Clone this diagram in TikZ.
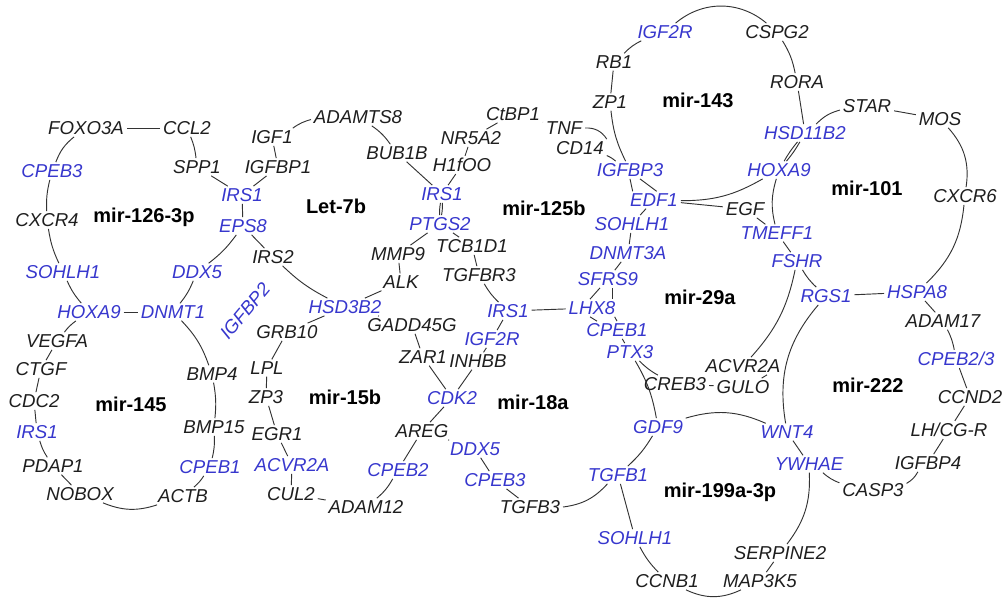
\documentclass[tikz,border=0pt]{standalone}
\usepackage{fontspec}
\setmainfont{Liberation Sans}
\usepackage{tikz}
\definecolor{genblue}{RGB}{55,55,205}
\definecolor{geneblack}{RGB}{30,30,30}
\tikzstyle{gene} = [text=geneblack, font=\itshape\fontsize{14}{16}\selectfont,
    inner xsep=2pt, inner ysep=1.5pt]
\tikzstyle{hit} = [gene, text=genblue]
\tikzstyle{mirna} = [text=black, font=\bfseries\fontsize{15}{18}\selectfont]
\tikzstyle{genelink} = [draw=black!80, line width=0.7pt]

\begin{document}
\begin{tikzpicture}[x=0.75pt,y=-0.75pt]
\useasboundingbox (0,0) rectangle (1002,599);

\node[mirna] (m126) at (144,217) {mir-126-3p};
\node[mirna] (m145) at (131,404) {mir-145};
\node[mirna] (let7b) at (336,206) {Let-7b};
\node[mirna] (m15b) at (345,397) {mir-15b};
\node[mirna] (m125b) at (544,208) {mir-125b};
\node[mirna] (m18a) at (533,402) {mir-18a};
\node[mirna] (m143) at (698,100) {mir-143};
\node[mirna] (m101) at (867,188) {mir-101};
\node[mirna] (m29a) at (700,297) {mir-29a};
\node[mirna] (m222) at (868,385) {mir-222};
\node[mirna] (m199) at (720,492) {mir-199a-3p};

\node[gene] (foxo) at (86,128) {FOXO3A};
\node[gene] (ccl) at (187,128) {CCL2};
\node[gene] (spp) at (197,167) {SPP1};
\node[hit] (irsA) at (242,195) {IRS1};
\node[hit] (eps) at (243,226) {EPS8};
\node[hit] (ddxA) at (197,272) {DDX5};
\node[hit] (dnmt) at (173,312) {DNMT1};
\node[hit] (hoxA) at (89,312) {HOXA9};
\node[hit] (sohA) at (63,272) {SOHLH1};
\node[gene] (cxcr) at (47,220) {CXCR4};
\node[hit] (cpebA) at (52,171) {CPEB3};

\node[gene] (vegfa) at (57,341) {VEGFA};
\node[gene] (ctgf) at (41,369) {CTGF};
\node[gene] (cdc) at (34,401) {CDC2};
\node[hit] (irsB) at (37,432) {IRS1};
\node[gene] (pdap) at (53,466) {PDAP1};
\node[gene] (nobox) at (80,494) {NOBOX};
\node[gene] (actb) at (183,496) {ACTB};
\node[hit] (cpebB) at (210,467) {CPEB1};
\node[gene] (bmp15) at (214,427) {BMP15};
\node[gene] (bmp4) at (212,374) {BMP4};
\node[hit, rotate=50] (igfbp2) at (245,311) {IGFBP2};

\node[gene] (igfbp1) at (278,167) {IGFBP1};
\node[gene] (igf1) at (272,137) {IGF1};
\node[gene] (adamts) at (358,117) {ADAMTS8};
\node[gene] (bub) at (397,153) {BUB1B};
\node[hit] (irsC) at (442,194) {IRS1};
\node[hit] (ptgs) at (440,224) {PTGS2};
\node[gene] (mmp) at (398,254) {MMP9};
\node[gene] (alk) at (401,282) {ALK};
\node[hit] (hsd3) at (345,307) {HSD3B2};
\node[gene] (irs2) at (273,257) {IRS2};

\node[gene] (grb) at (287,332) {GRB10};
\node[gene] (lpl) at (267,368) {LPL};
\node[gene] (zp3) at (266,397) {ZP3};
\node[gene] (egr) at (277,434) {EGR1};
\node[hit] (acvrA) at (292,465) {ACVR2A};
\node[gene] (cul) at (291,494) {CUL2};
\node[gene] (adam12) at (366,507) {ADAM12};
\node[hit] (cpebC) at (398,470) {CPEB2};
\node[gene] (areg) at (422,431) {AREG};
\node[hit] (cdk) at (452,398) {CDK2};
\node[gene] (zar) at (423,357) {ZAR1};
\node[gene] (gadd) at (412,325) {GADD45G};

\node[gene] (h1f) at (462,165) {H1fOO};
\node[gene] (nr5) at (471,138) {NR5A2};
\node[gene] (ctbp) at (513,114) {CtBP1};
\node[gene] (tnf) at (564,128) {TNF};
\node[gene] (cd14) at (580,148) {CD14};
\node[hit] (igfbp3) at (630,170) {IGFBP3};
\node[hit] (edf) at (654,200) {EDF1};
\node[hit] (sohB) at (632,224) {SOHLH1};
\node[hit] (dnmt3) at (628,253) {DNMT3A};
\node[hit] (sfrs) at (608,279) {SFRS9};
\node[hit] (lhx) at (592,308) {LHX8};
\node[hit] (irsD) at (508,311) {IRS1};
\node[gene] (tgfbr) at (479,275) {TGFBR3};
\node[gene] (tcb) at (472,246) {TCB1D1};

\node[hit] (igf2rA) at (492,339) {IGF2R};
\node[gene] (inhbb) at (478,361) {INHBB};
\node[hit] (ddxB) at (475,449) {DDX5};
\node[hit] (cpebD) at (495,480) {CPEB3};
\node[gene] (tgfb3) at (530,507) {TGFB3};
\node[hit] (tgfb1) at (618,475) {TGFB1};
\node[hit] (gdf) at (658,427) {GDF9};
\node[hit] (ptx) at (630,352) {PTX3};
\node[hit] (cpebE) at (617,330) {CPEB1};

\node[hit] (igf2rB) at (665,32) {IGF2R};
\node[gene] (rb) at (614,62) {RB1};
\node[gene] (zp1) at (610,102) {ZP1};
\node[gene] (cspg) at (777,32) {CSPG2};
\node[gene] (rora) at (797,82) {RORA};
\node[hit] (hsd11) at (805,133) {HSD11B2};
\node[hit] (hoxB) at (779,170) {HOXA9};

\node[gene] (star) at (867,106) {STAR};
\node[gene] (mos) at (940,119) {MOS};
\node[gene] (cxcr6) at (965,196) {CXCR6};
\node[hit] (hspa) at (917,292) {HSPA8};
\node[hit] (rgs) at (826,296) {RGS1};
\node[hit] (fshr) at (797,261) {FSHR};
\node[hit] (tmeff) at (777,233) {TMEFF1};
\node[gene] (egf) at (745,209) {EGF};

\node[gene] (acvrB) at (743,366) {ACVR2A};
\node[gene] (gulo) at (743,387) {GULO};
\node[gene] (creb) at (675,384) {CREB3};

\node[gene] (adam17) at (943,321) {ADAM17};
\node[hit] (cpeb23) at (956,359) {CPEB2/3};
\node[gene] (ccnd) at (970,397) {CCND2};
\node[gene] (lhcg) at (949,430) {LH/CG-R};
\node[gene] (igfbp4) at (928,463) {IGFBP4};
\node[gene] (casp) at (873,490) {CASP3};
\node[hit] (ywhae) at (809,464) {YWHAE};
\node[hit] (wnt) at (787,432) {WNT4};

\node[gene] (serp) at (780,553) {SERPINE2};
\node[gene] (map3k) at (760,581) {MAP3K5};
\node[gene] (ccnb) at (667,581) {CCNB1};
\node[hit] (sohC) at (635,538) {SOHLH1};

\draw[genelink] (ccl) -- (foxo);
\draw[genelink] (foxo) to[bend right=15] (cpebA);
\draw[genelink] (cpebA) to[bend right=8] (cxcr);
\draw[genelink] (cxcr) to[bend right=8] (sohA);
\draw[genelink] (sohA) to[bend right=8] (hoxA);
\draw[genelink] (hoxA) -- (dnmt);
\draw[genelink] (dnmt) to[bend right=8] (ddxA);
\draw[genelink] (ddxA) to[bend right=8] (eps);
\draw[genelink] (eps) -- (irsA);
\draw[genelink] (irsA) -- (spp);
\draw[genelink] (spp) to[bend right=8] (ccl);

\draw[genelink] (hoxA) to[bend right=8] (vegfa);
\draw[genelink] (vegfa) -- (ctgf);
\draw[genelink] (ctgf) -- (cdc);
\draw[genelink] (cdc) -- (irsB);
\draw[genelink] (irsB) to[bend right=8] (pdap);
\draw[genelink] (pdap) -- (nobox);
\draw[genelink] (nobox) to[bend right=20] (actb);
\draw[genelink] (actb) to[bend right=8] (cpebB);
\draw[genelink] (cpebB) to[bend right=8] (bmp15);
\draw[genelink] (bmp15) to[bend right=8] (bmp4);
\draw[genelink] (bmp4) to[bend right=12] (dnmt);

\draw[genelink] (adamts) to[bend right=10] (igf1);
\draw[genelink] (igf1) -- (igfbp1);
\draw[genelink] (igfbp1) -- (irsA);
\draw[genelink] (eps) -- (irs2);
\draw[genelink] (irs2) to[bend right=8] (hsd3);
\draw[genelink] (hsd3) -- (alk);
\draw[genelink] (alk) -- (mmp);
\draw[genelink] (mmp) -- (ptgs);
\draw[genelink] (ptgs) to[bend right=6] (irsC);
\draw[genelink] (irsC) -- (bub);
\draw[genelink] (bub) to[bend right=10] (adamts);

\draw[genelink] (hsd3) -- (grb);
\draw[genelink] (grb) -- (lpl);
\draw[genelink] (lpl) -- (zp3);
\draw[genelink] (zp3) -- (egr);
\draw[genelink] (egr) -- (acvrA);
\draw[genelink] (acvrA) -- (cul);
\draw[genelink] (cul) -- (adam12);
\draw[genelink] (adam12) to[bend right=10] (cpebC);
\draw[genelink] (cpebC) -- (areg);
\draw[genelink] (areg) -- (cdk);
\draw[genelink] (cdk) -- (zar);
\draw[genelink] (zar) -- (gadd);
\draw[genelink] (gadd) -- (hsd3);

\draw[genelink] (ctbp) -- (nr5);
\draw[genelink] (nr5) -- (h1f);
\draw[genelink] (h1f) -- (irsC);
\draw[genelink] (irsC) to[bend right=6] (ptgs);
\draw[genelink] (ptgs) -- (tcb);
\draw[genelink] (tcb) -- (tgfbr);
\draw[genelink] (tgfbr) to[bend right=8] (irsD);
\draw[genelink] (irsD) -- (lhx);
\draw[genelink] ([xshift=-1.5pt]lhx.north) -- ([xshift=-6pt]sfrs.south);
\draw[genelink] (sfrs) -- (dnmt3);
\draw[genelink] (dnmt3) -- (sohB);
\draw[genelink] (sohB) -- (edf);
\draw[genelink] ([xshift=7.5pt]igfbp3.south) -- ([xshift=2pt]edf.north);
\draw[genelink] (igfbp3) to[bend right=8] (cd14);
\draw[genelink] (tnf.east) to[bend left=30] (cd14.north east);
\draw[genelink] (ctbp) -- (tnf);

\draw[genelink] (irsD) -- (igf2rA);
\draw[genelink] (igf2rA) -- (inhbb);
\draw[genelink] (inhbb) -- (cdk);
\draw[genelink] (areg) -- (ddxB);
\draw[genelink] (ddxB) -- (cpebD);
\draw[genelink] (cpebD) -- (tgfb3);
\draw[genelink] (tgfb3) to[bend right=20] (tgfb1);
\draw[genelink] (tgfb1) to[bend right=8] (gdf);
\draw[genelink] (gdf) to[bend right=10] (ptx);
\draw[genelink] (ptx) -- (cpebE);
\draw[genelink] ([xshift=-1.5pt]lhx.south) -- ([xshift=-15pt]cpebE.north);
\draw[genelink] ([xshift=17pt]lhx.south) -- (cpebE.north);

\draw[genelink] ([xshift=3pt]sfrs.south) -- ([xshift=15pt]lhx.north);
\draw[genelink] (ptx) to[bend right=8] (creb);
\draw[genelink] (creb) -- (gulo);
\draw[genelink] ([xshift=14pt]gulo.north) -- ([xshift=18pt]acvrB.south);
\draw[genelink] (acvrB) to[bend right=15] (fshr);
\draw[genelink] (tmeff) -- (egf);
\draw[genelink] (egf) -- (edf);

\draw[genelink] (cspg) to[bend right=40] (igf2rB);
\draw[genelink] (igf2rB) to[bend right=10] (rb);
\draw[genelink] (rb) -- (zp1);
\draw[genelink] (zp1) to[bend right=10] (igfbp3);
\draw[genelink] (igfbp3.south) -- ([xshift=-16pt]edf.north);
\draw[genelink] (edf) to[bend right=15] (hoxB);
\draw[genelink] (hoxB) to[bend right=5] (hsd11);
\draw[genelink] (hsd11) -- (rora);
\draw[genelink] (rora) to[bend right=10] (cspg);

\draw[genelink] (mos) -- (star);
\draw[genelink] (star) to[bend right=15] (hsd11);
\draw[genelink] (hsd11) to[bend right=5] (hoxB);
\draw[genelink] (hoxB) to[bend right=15] (tmeff);
\draw[genelink] (tmeff) -- (fshr);
\draw[genelink] (fshr) to[bend right=8] (rgs);
\draw[genelink] (rgs) -- (hspa);
\draw[genelink] (hspa) to[bend right=20] (cxcr6);
\draw[genelink] (cxcr6) to[bend right=25] (mos);

\draw[genelink] (rgs) to[bend right=25] (wnt);
\draw[genelink] (wnt) -- (ywhae);
\draw[genelink] (ywhae) to[bend right=10] (casp);
\draw[genelink] (casp) to[bend right=15] (igfbp4);
\draw[genelink] (igfbp4) -- (lhcg);
\draw[genelink] (lhcg) -- (ccnd);
\draw[genelink] (ccnd) -- (cpeb23);
\draw[genelink] (cpeb23) to[bend right=8] (adam17);
\draw[genelink] (adam17) -- (hspa);

\draw[genelink] (wnt) to[bend right=20] (gdf);
\draw[genelink] (tgfb1) -- (sohC);
\draw[genelink] (sohC) to[bend right=8] (ccnb);
\draw[genelink] (ccnb) to[bend right=25] (map3k);
\draw[genelink] (map3k) -- (serp);
\draw[genelink] (serp) to[bend right=20] (ywhae);
\end{tikzpicture}
\end{document}
